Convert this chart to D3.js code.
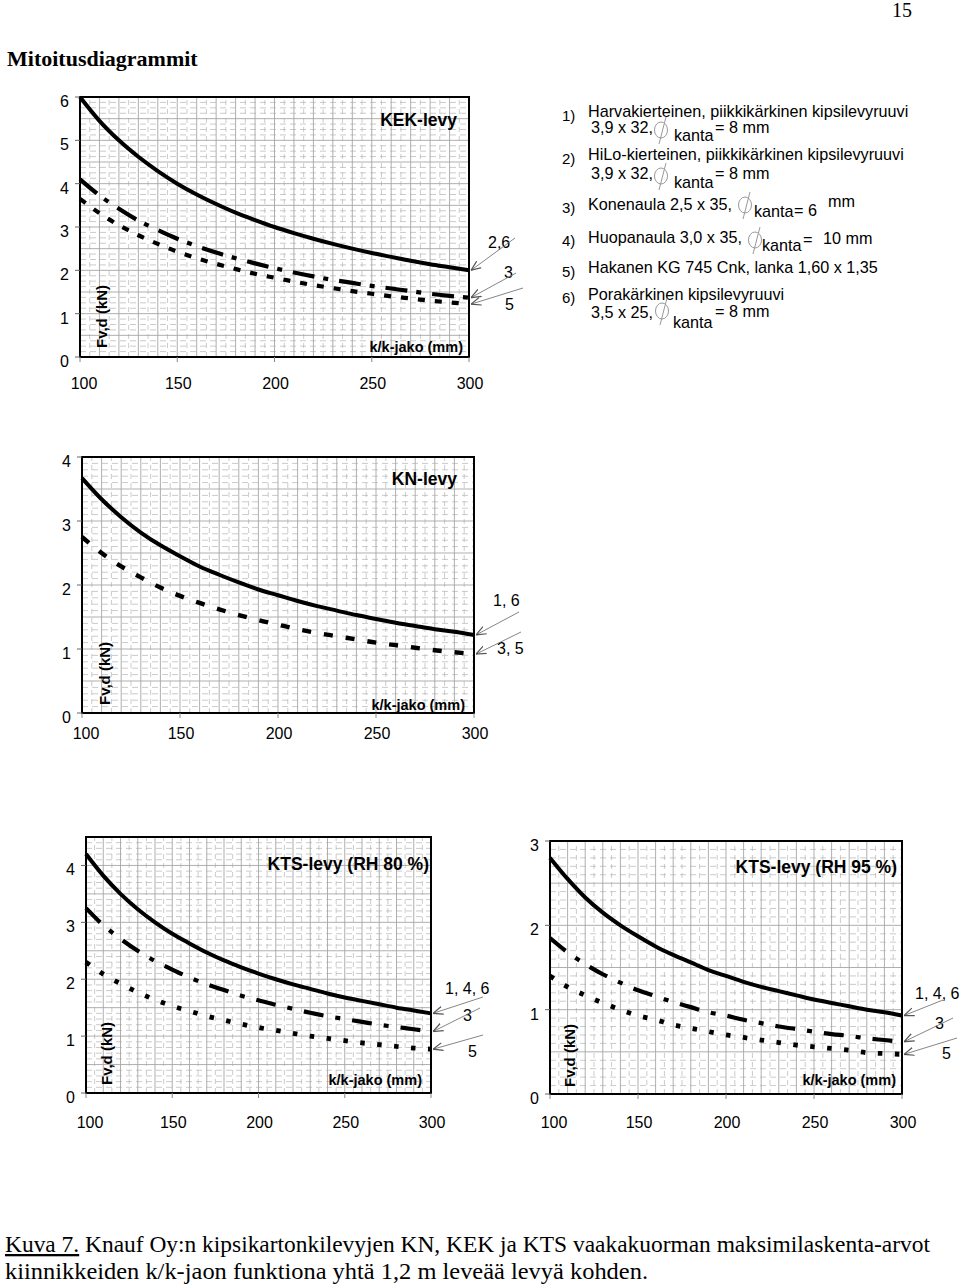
<!DOCTYPE html>
<html><head><meta charset="utf-8">
<script src="https://cdn.jsdelivr.net/npm/d3@7"></script>
<style>body{margin:0;background:#fff}svg{display:block}</style>
</head><body>
<svg id="c" width="960" height="1285"></svg>
<script>
// ---------- DATA ----------
const kkJako = [100,110,120,130,140,150,160,170,180,190,200,210,220,230,240,250,260,270,280,290,300];
const xTickLabels = [100,150,200,250,300];

// KEK-levy
const kekSolid = [6.0,5.45,5.0,4.62,4.29,4.0,3.75,3.53,3.33,3.16,3.0,2.86,2.73,2.61,2.5,2.4,2.31,2.22,2.14,2.07,2.0];
const kekDash  = [4.1,3.73,3.42,3.15,2.93,2.73,2.56,2.41,2.28,2.16,2.05,1.95,1.86,1.78,1.71,1.64,1.58,1.52,1.46,1.41,1.37];
const kekDot   = [3.65,3.32,3.04,2.81,2.61,2.43,2.28,2.15,2.03,1.92,1.83,1.74,1.66,1.59,1.52,1.46,1.40,1.35,1.30,1.26,1.22];
const kekYTicks = [0,1,2,3,4,5,6];
const kekLabels = ["2,6","3","5"];

// KN-levy
const knSolid = [3.67,3.34,3.06,2.82,2.62,2.45,2.29,2.16,2.04,1.93,1.84,1.75,1.67,1.60,1.53,1.47,1.41,1.36,1.31,1.27,1.22];
const knDash  = [2.75,2.5,2.29,2.12,1.96,1.83,1.72,1.62,1.53,1.45,1.38,1.31,1.25,1.2,1.15,1.1,1.06,1.02,0.98,0.95,0.92];
const knYTicks = [0,1,2,3,4];
const knLabels = ["1, 6","3, 5"];

// KTS-levy RH 80 %
const kts80Solid = [4.2,3.82,3.5,3.23,3.0,2.8,2.63,2.47,2.33,2.21,2.1,2.0,1.91,1.83,1.75,1.68,1.62,1.56,1.5,1.45,1.4];
const kts80Dash  = [3.25,2.95,2.71,2.5,2.32,2.17,2.03,1.91,1.81,1.71,1.63,1.55,1.48,1.41,1.35,1.3,1.25,1.2,1.16,1.12,1.08];
const kts80Dot   = [2.3,2.09,1.92,1.77,1.64,1.53,1.44,1.35,1.28,1.21,1.15,1.1,1.05,1.0,0.96,0.92,0.88,0.85,0.82,0.79,0.77];
const kts80YTicks = [0,1,2,3,4];
const kts80Labels = ["1, 4, 6","3","5"];

// KTS-levy RH 95 %
const kts95Solid = [2.8,2.55,2.33,2.15,2.0,1.87,1.75,1.65,1.56,1.47,1.4,1.33,1.27,1.22,1.17,1.12,1.08,1.04,1.0,0.97,0.93];
const kts95Dash  = [1.85,1.68,1.54,1.42,1.32,1.23,1.16,1.09,1.03,0.97,0.93,0.88,0.84,0.8,0.77,0.74,0.71,0.69,0.66,0.64,0.62];
const kts95Dot   = [1.4,1.27,1.17,1.08,1.0,0.93,0.88,0.82,0.78,0.74,0.7,0.67,0.64,0.61,0.58,0.56,0.54,0.52,0.49,0.48,0.47];
const kts95YTicks = [0,1,2,3];
const kts95Labels = ["1, 4, 6","3","5"];

const legendNums = ["1)","2)","3)","4)","5)","6)"];
const legendMain = ["Harvakierteinen, piikkikärkinen kipsilevyruuvi","HiLo-kierteinen, piikkikärkinen kipsilevyruuvi","Konenaula 2,5 x 35,","Huopanaula 3,0 x 35,","Hakanen KG 745 Cnk, lanka 1,60 x 1,35","Porakärkinen kipsilevyruuvi"];

// ---------- DRAW ----------
const svg = d3.select("#c");
const SANS = "'Liberation Sans', Arial, sans-serif";
const SERIF = "'Liberation Serif', 'Times New Roman', serif";

const defs = svg.append("defs");
defs.append("marker").attr("id","arr").attr("viewBox","0 0 10 10").attr("refX",10).attr("refY",5)
  .attr("markerWidth",10).attr("markerHeight",10).attr("markerUnits","userSpaceOnUse").attr("orient","auto")
  .append("path").attr("d","M0,1 L10,5 L0,9").attr("fill","none").attr("stroke","#555").attr("stroke-width",1.2);

const styles = {
  solid:{dash:null, w:4},
  kekDash:{dash:"22,9,5,11", w:4.2},
  kekDot:{dash:"7,10", w:4.2},
  knDash:{dash:"9,13", w:4.4},
  ktsDash:{dash:"20,12,5,12", w:4.2},
  ktsDot:{dash:"4.5,12.5", w:4.8}
};

function chart(cfg){
  const g = svg.append("g");
  const x = d3.scaleLinear().domain([100,300]).range([cfg.x0,cfg.x1]);
  const y = d3.scaleLinear().domain([0,cfg.yMax]).range([cfg.y0,cfg.y1]);
  // minor horizontal dashed grid
  const minorY = d3.range(0, cfg.yMax+1e-9, cfg.minorY).filter(v => Math.abs(v/0.5 - Math.round(v/0.5))>1e-6);
  g.selectAll(".mh").data(minorY).join("line")
    .attr("x1",cfg.x0).attr("x2",cfg.x1).attr("y1",d=>y(d)).attr("y2",d=>y(d))
    .attr("stroke","#b4b4b4").attr("stroke-width",0.7).attr("stroke-dasharray","6,4");
  // minor vertical dashed
  const minorX = d3.range(105,300,10);
  g.selectAll(".mv").data(minorX).join("line")
    .attr("x1",d=>x(d)).attr("x2",d=>x(d)).attr("y1",cfg.y0).attr("y2",cfg.y1)
    .attr("stroke","#b4b4b4").attr("stroke-width",0.7).attr("stroke-dasharray","5,4");
  // major grid
  const majorY = d3.range(0.5, cfg.yMax-1e-9, 0.5);
  g.selectAll(".Mh").data(majorY).join("line")
    .attr("x1",cfg.x0).attr("x2",cfg.x1).attr("y1",d=>y(d)).attr("y2",d=>y(d))
    .attr("stroke","#a6a6a6").attr("stroke-width",0.9);
  const majorX = d3.range(110,300,10);
  g.selectAll(".Mv").data(majorX).join("line")
    .attr("x1",d=>x(d)).attr("x2",d=>x(d)).attr("y1",cfg.y0).attr("y2",cfg.y1)
    .attr("stroke","#a6a6a6").attr("stroke-width",0.9);
  // frame
  g.append("rect").attr("x",cfg.x0).attr("y",cfg.y1).attr("width",cfg.x1-cfg.x0).attr("height",cfg.y0-cfg.y1)
    .attr("fill","none").attr("stroke","#000").attr("stroke-width",2);
  // y ticks
  g.selectAll(".yt").data(cfg.yTicks).join("line")
    .attr("x1",cfg.x0-5).attr("x2",cfg.x0).attr("y1",d=>y(d)).attr("y2",d=>y(d))
    .attr("stroke","#666").attr("stroke-width",1);
  g.selectAll(".yl").data(cfg.yTicks).join("text")
    .attr("x",cfg.x0-11).attr("y",d=>y(d)+10).attr("text-anchor","end")
    .attr("font-family",SANS).attr("font-size",16).text(d=>d);
  g.selectAll(".xt").data(xTickLabels).join("line")
    .attr("x1",d=>x(d)).attr("x2",d=>x(d)).attr("y1",cfg.y0).attr("y2",cfg.y0+5)
    .attr("stroke","#888").attr("stroke-width",1);
  g.selectAll(".xl").data(xTickLabels).join("text")
    .attr("x",d=>x(d)+(d===100?4:1)).attr("y",cfg.xLabY).attr("text-anchor","middle")
    .attr("font-family",SANS).attr("font-size",16).text(d=>d);
  // series
  const line = d3.line().x((d,i)=>x(kkJako[i])).y(d=>y(d)).curve(d3.curveMonotoneX);
  cfg.series.forEach(s=>{
    const st = styles[s.style];
    g.append("path").datum(s.v).attr("d",line).attr("fill","none").attr("stroke","#000")
      .attr("stroke-width",st.w).attr("stroke-dasharray",st.dash);
  });
  // texts
  g.append("text").attr("x",cfg.titleX).attr("y",cfg.titleY).attr("text-anchor","end")
    .attr("font-family",SANS).attr("font-weight","bold").attr("font-size",17.5).text(cfg.title);
  g.append("text").attr("x",cfg.jakoX).attr("y",cfg.jakoY).attr("text-anchor","end")
    .attr("font-family",SANS).attr("font-weight","bold").attr("font-size",14.5).text("k/k-jako (mm)");
  g.append("text").attr("transform",`translate(${cfg.fvX},${cfg.fvY}) rotate(-90)`)
    .attr("font-family",SANS).attr("font-weight","bold").attr("font-size",15).text("Fv,d (kN)");
  // curve labels + arrows
  cfg.labels.forEach((t,i)=>{
    const L = cfg.labelPos[i];
    g.append("text").attr("x",L[0]).attr("y",L[1]).attr("font-family",SANS).attr("font-size",16).text(t);
    const A = cfg.arrowFrom[i];
    const s = cfg.series[cfg.arrowTo[i]];
    g.append("line").attr("x1",A[0]).attr("y1",A[1])
      .attr("x2",x(300)+2).attr("y2",y(s.v[s.v.length-1]))
      .attr("stroke","#777").attr("stroke-width",0.9).attr("marker-end","url(#arr)");
  });
}

chart({title:"KEK-levy", x0:80,x1:469,y0:357,y1:97,yMax:6,minorY:0.125,yTicks:kekYTicks,xLabY:389,
  titleX:457,titleY:126,jakoX:463,jakoY:352,fvX:107,fvY:348,
  series:[{v:kekSolid,style:"solid"},{v:kekDash,style:"kekDash"},{v:kekDot,style:"kekDot"}],
  labels:kekLabels,labelPos:[[488,248],[504,278],[505,310]],
  arrowFrom:[[515,238],[516,273],[523,288]],arrowTo:[0,1,2]});

chart({title:"KN-levy", x0:82,x1:474,y0:713,y1:457,yMax:4,minorY:0.1,yTicks:knYTicks,xLabY:739,
  titleX:457,titleY:485,jakoX:465,jakoY:710,fvX:110,fvY:705,
  series:[{v:knSolid,style:"solid"},{v:knDash,style:"knDash"}],
  labels:knLabels,labelPos:[[493,606],[497,654]],
  arrowFrom:[[519,612],[521,632]],arrowTo:[0,1]});

chart({title:"KTS-levy (RH 80 %)", x0:86,x1:431,y0:1093,y1:837,yMax:4.5,minorY:0.1,yTicks:kts80YTicks,xLabY:1128,
  titleX:429,titleY:870,jakoX:422,jakoY:1085,fvX:112,fvY:1085,
  series:[{v:kts80Solid,style:"solid"},{v:kts80Dash,style:"ktsDash"},{v:kts80Dot,style:"ktsDot"}],
  labels:kts80Labels,labelPos:[[445,994],[463,1021],[468,1057]],
  arrowFrom:[[483,997],[480,1008],[483,1035]],arrowTo:[0,1,2]});

chart({title:"KTS-levy (RH 95 %)", x0:550,x1:902,y0:1094,y1:841,yMax:3,minorY:0.1,yTicks:kts95YTicks,xLabY:1128,
  titleX:897,titleY:873,jakoX:896,jakoY:1085,fvX:575,fvY:1087,
  series:[{v:kts95Solid,style:"solid"},{v:kts95Dash,style:"ktsDash"},{v:kts95Dot,style:"ktsDot"}],
  labels:kts95Labels,labelPos:[[915,999],[935,1029],[942,1059]],
  arrowFrom:[[943,1000],[953,1018],[957,1038]],arrowTo:[0,1,2]});

// ---------- LEGEND ----------
const lg = svg.append("g").attr("font-family",SANS).attr("font-size",16.2).attr("fill","#000");
const numY = [121,164,213,246,277,303];
const mainY = [117,160,210,243,273,300];
legendNums.forEach((n,i)=>lg.append("text").attr("x",562).attr("y",numY[i]).attr("font-size",15).text(n));
legendMain.forEach((t,i)=>lg.append("text").attr("x",588).attr("y",mainY[i]).text(t));
function phi(cx,cy){
  lg.append("ellipse").attr("cx",cx).attr("cy",cy).attr("rx",6.5).attr("ry",8)
    .attr("fill","none").attr("stroke","#999").attr("stroke-width",1);
  lg.append("line").attr("x1",cx+5).attr("y1",cy-13).attr("x2",cx-2).attr("y2",cy+14)
    .attr("stroke","#999").attr("stroke-width",1);
}
// sub-lines
lg.append("text").attr("x",591).attr("y",133).text("3,9 x 32,");
phi(661,130); lg.append("text").attr("x",674).attr("y",141).text("kanta");
lg.append("text").attr("x",715).attr("y",133).text("= 8 mm");
lg.append("text").attr("x",591).attr("y",179).text("3,9 x 32,");
phi(661,176); lg.append("text").attr("x",674).attr("y",188).text("kanta");
lg.append("text").attr("x",715).attr("y",179).text("= 8 mm");
phi(745,205); lg.append("text").attr("x",754).attr("y",217).text("kanta");
lg.append("text").attr("x",794).attr("y",216).text("= 6");
lg.append("text").attr("x",828).attr("y",207).text("mm");
phi(755,240); lg.append("text").attr("x",762).attr("y",251).text("kanta");
lg.append("text").attr("x",803).attr("y",245).text("=");
lg.append("text").attr("x",823).attr("y",244).text("10 mm");
lg.append("text").attr("x",591).attr("y",318).text("3,5 x 25,");
phi(662,311); lg.append("text").attr("x",673).attr("y",328).text("kanta");
lg.append("text").attr("x",715).attr("y",317).text("= 8 mm");

// ---------- PAGE TEXT ----------
svg.append("text").attr("x",892).attr("y",17).attr("font-family",SERIF).attr("font-size",20).text("15");
svg.append("text").attr("x",7).attr("y",66).attr("font-family",SERIF).attr("font-weight","bold")
  .attr("font-size",22).text("Mitoitusdiagrammit");
const cap1 = svg.append("text").attr("x",5).attr("y",1252).attr("font-family",SERIF).attr("font-size",23)
  .attr("textLength",925).attr("lengthAdjust","spacingAndGlyphs");
cap1.append("tspan").attr("text-decoration","underline").text("Kuva 7.");
cap1.append("tspan").text(" Knauf Oy:n kipsikartonkilevyjen KN, KEK ja KTS vaakakuorman maksimilaskenta-arvot");
svg.append("text").attr("x",5).attr("y",1279).attr("font-family",SERIF).attr("font-size",23)
  .attr("textLength",643).attr("lengthAdjust","spacingAndGlyphs")
  .text("kiinnikkeiden k/k-jaon funktiona yhtä 1,2 m leveää levyä kohden.");
</script>
</body></html>
